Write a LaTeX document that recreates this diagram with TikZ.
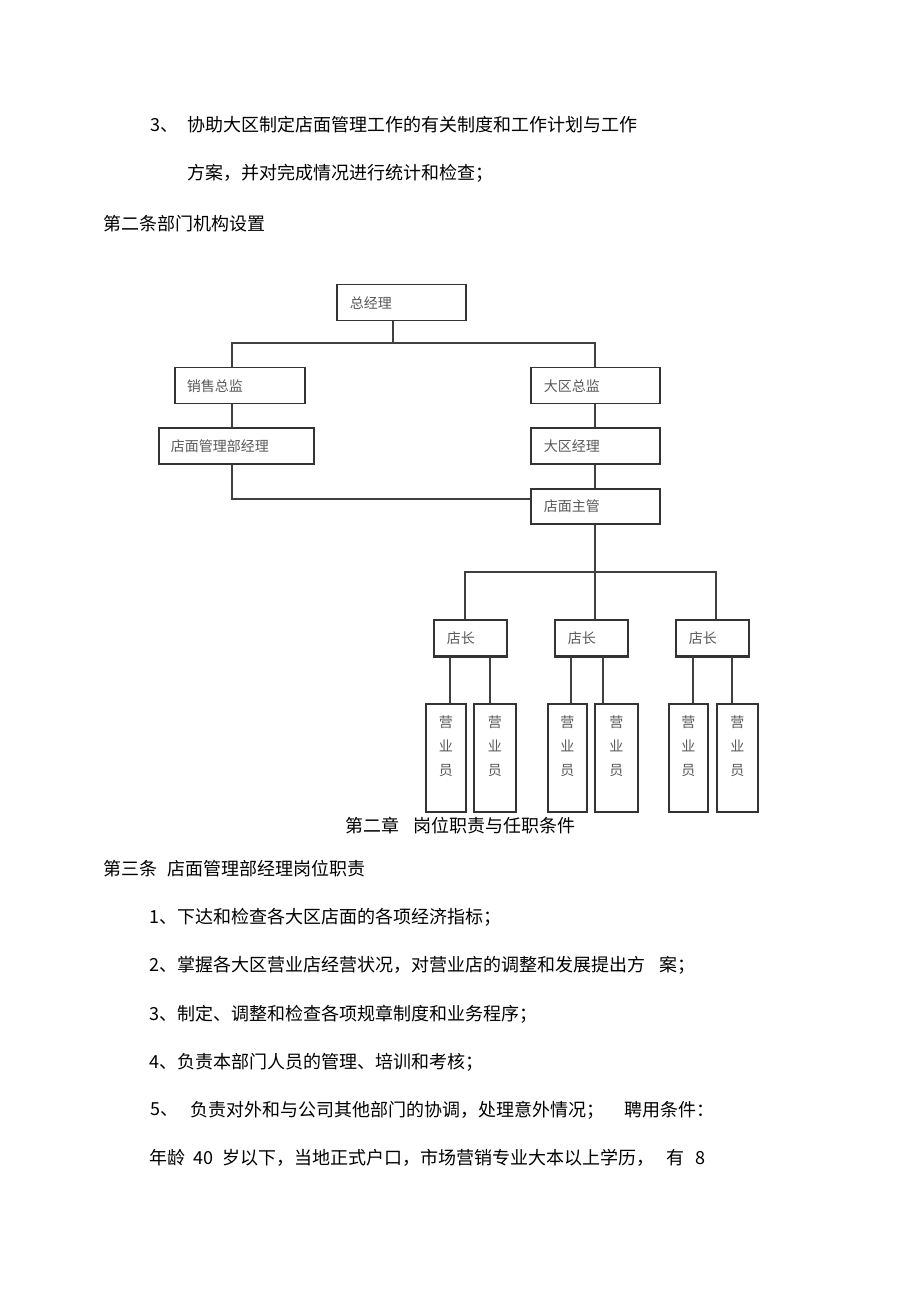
\documentclass[tikz,border=0pt]{standalone}
\usepackage{fontspec}
\setmainfont{Noto Sans CJK SC}
\newfontfamily\cjk{Noto Sans CJK SC}
\begin{document}
\begin{tikzpicture}[x=0.5pt,y=-0.5pt,
  body/.style={anchor=west,inner sep=0pt,font=\cjk\fontsize{9pt}{11pt}\selectfont,text=black},
  box/.style={draw=black!80,line width=0.75pt,anchor=north west,inner ysep=0pt,minimum height=18pt,align=left,font=\cjk\fontsize{7pt}{8pt}\selectfont,text=black!65},
  clerkbox/.style={draw=black!80,line width=0.75pt,anchor=north west,inner sep=0pt,minimum width=20pt,minimum height=54pt},
  clerktext/.style={anchor=north,inner sep=0pt,align=center,font=\cjk\fontsize{7pt}{12pt}\selectfont,text=black!65},
  conn/.style={draw=black!75,line width=0.7pt}]
\useasboundingbox (0,0) rectangle (920,1304);
\fill[white] (0,0) rectangle (920,1304);

% body text above the chart
\node[body] (t1a) at (150,125) {3、};
\node[body] (t1b) at (187,125) {协助大区制定店面管理工作的有关制度和工作计划与工作};
\node[body] (t2) at (187,173) {方案，并对完成情况进行统计和检查；};
\node[body] (t3) at (103,224) {第二条部门机构设置};

% chart boxes
\node[box,minimum width=64.5pt,text width=51.5pt,inner xsep=6.5pt] (gm) at (336,284) {总经理};
\node[box,minimum width=65pt,text width=53pt,inner xsep=6pt] (sd) at (174,367) {销售总监};
\node[box,minimum width=77.5pt,text width=65.5pt,inner xsep=6pt] (sm) at (158,427) {店面管理部经理};
\node[box,minimum width=64.5pt,text width=51.5pt,inner xsep=6.5pt] (rd) at (530,367) {大区总监};
\node[box,minimum width=64.5pt,text width=51.5pt,inner xsep=6.5pt] (rm) at (530,427) {大区经理};
\node[box,minimum width=64.5pt,text width=51.5pt,inner xsep=6.5pt,minimum height=17.5pt] (sp) at (530,488) {店面主管};
\node[box,minimum width=36.5pt,text width=23.5pt,inner xsep=6.5pt] (s1) at (433,619) {店长};
\node[box,minimum width=36.5pt,text width=23.5pt,inner xsep=6.5pt] (s2) at (554,619) {店长};
\node[box,minimum width=36.5pt,text width=23.5pt,inner xsep=6.5pt] (s3) at (675,619) {店长};
\draw[draw=black!80,line width=1.3pt] (s1.south west) -- (s1.south east);
\draw[draw=black!80,line width=1.3pt] (s2.south west) -- (s2.south east);
\draw[draw=black!80,line width=1.3pt] (s3.south west) -- (s3.south east);

% clerks
\node[clerkbox] (c1) at (425,703) {};
\node[clerkbox,minimum width=21pt] (c2) at (473,703) {};
\node[clerkbox,minimum width=19.5pt] (c3) at (547,703) {};
\node[clerkbox,minimum width=21.5pt] (c4) at (594,703) {};
\node[clerkbox,minimum width=19.5pt] (c5) at (668,703) {};
\node[clerkbox,minimum width=20.5pt] (c6) at (716,703) {};
\foreach \c in {c1,c2,c3,c4,c5,c6}{
  \node[clerktext] (\c t) at ([yshift=-6pt]\c.north) {营\\业\\员};
}

% connectors
\coordinate (j0) at (393,343);
\coordinate (lx) at (232,343);
\coordinate (rx) at (595,343);
\coordinate (sj) at (530,499);
\coordinate (dj) at (595,572);
\coordinate (dl) at (465,572);
\coordinate (dr) at (716,572);
\draw[conn,line width=1.4pt] (gm.south -| j0) -- (j0);
\draw[conn] (sd.north -| lx) -- (lx) -- (rx) -- (rd.north -| rx);
\draw[conn] (sd.south -| lx) -- (sm.north -| lx);
\draw[conn] (sm.south -| lx) |- (sj);
\draw[conn] (rd.south -| rx) -- (rm.north -| rx);
\draw[conn] (rm.south -| rx) -- (sp.north -| rx);
\draw[conn] (sp.south -| dj) -- (dj);
\draw[conn] (s1.north -| dl) -- (dl) -- (dr) -- (s3.north -| dr);
\draw[conn] (dj) -- (s2.north -| dj);
\draw[conn] (s1.south -| 450,0) -- (c1.north -| 450,0);
\draw[conn] (s1.south -| 490,0) -- (c2.north -| 490,0);
\draw[conn] (s2.south -| 571,0) -- (c3.north -| 571,0);
\draw[conn] (s2.south -| 603,0) -- (c4.north -| 603,0);
\draw[conn] (s3.south -| 693,0) -- (c5.north -| 693,0);
\draw[conn] (s3.south -| 732,0) -- (c6.north -| 732,0);

% body text below the chart
\node[body] (h2) at (345,826) {第二章\hspace{7pt}岗位职责与任职条件};
\node[body] (h3) at (103,869) {第三条\hspace{5pt}店面管理部经理岗位职责};
\node[body] (i1) at (149,917) {1、下达和检查各大区店面的各项经济指标；};
\node[body] (i2a) at (149,965) {2、掌握各大区营业店经营状况，对营业店的调整和发展提出方};
\node[body] (i2b) at (659,965) {案；};
\node[body] (i3) at (149,1014) {3、制定、调整和检查各项规章制度和业务程序；};
\node[body] (i4) at (149,1062) {4、负责本部门人员的管理、培训和考核；};
\node[body] (i5a) at (150,1110) {5、};
\node[body] (i5b) at (190,1110) {负责对外和与公司其他部门的协调，处理意外情况；};
\node[body] (i5c) at (624,1110) {聘用条件：};
\node[body] (i6a) at (149,1158) {年龄};
\node[body] (i6b) at (193,1158) {40};
\node[body] (i6c) at (222,1158) {岁以下，当地正式户口，市场营销专业大本以上学历，};
\node[body] (i6d) at (666,1158) {有};
\node[body] (i6e) at (695,1158) {8};
\end{tikzpicture}
\end{document}
